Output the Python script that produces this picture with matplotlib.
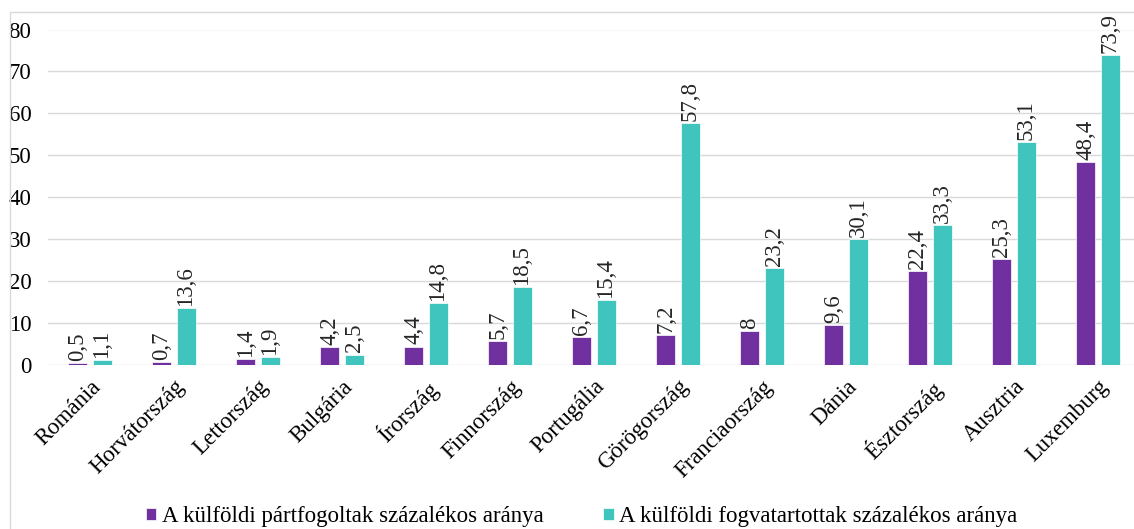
import numpy as np
import matplotlib
matplotlib.use("Agg")
import matplotlib.pyplot as plt
from matplotlib.patches import Rectangle

plt.rcParams['font.family'] = ['Liberation Serif', 'DejaVu Serif']

orszagok = ["Románia", "Horvátország", "Lettország", "Bulgária", "Írország",
            "Finnország", "Portugália", "Görögország", "Franciaország", "Dánia",
            "Észtország", "Ausztria", "Luxemburg"]
partfogoltak = [0.5, 0.7, 1.4, 4.2, 4.4, 5.7, 6.7, 7.2, 8, 9.6, 22.4, 25.3, 48.4]
fogvatartottak = [1.1, 13.6, 1.9, 2.5, 14.8, 18.5, 15.4, 57.8, 23.2, 30.1, 33.3, 53.1, 73.9]
y_ticks = [0, 10, 20, 30, 40, 50, 60, 70, 80]

szin_lila = "#7030A0"
szin_turkiz = "#3FC5BD"
fs = 16.5

fig = plt.figure(figsize=(11.34, 5.29), dpi=100)
# chart area border (light gray)
fig.patches.append(Rectangle((10 / 1134, -0.1), 1.2, 1 - 12 / 529 + 0.1,
                             transform=fig.transFigure, fill=False,
                             edgecolor="#D9D9D9", linewidth=1))

ax = fig.add_axes([48 / 1134, 1 - 365 / 529, 1092 / 1134, (365 - 29.5) / 529])

x = np.arange(len(orszagok))
w = 0.226
off = 0.143
b1 = ax.bar(x - off, partfogoltak, w, color=szin_lila, edgecolor="white", linewidth=0.5,
            label="A külföldi pártfogoltak százalékos aránya", zorder=3)
b2 = ax.bar(x + off, fogvatartottak, w, color=szin_turkiz, edgecolor="white", linewidth=0.5,
            label="A külföldi fogvatartottak százalékos aránya", zorder=3)

def fmt(v):
    return ("%g" % v).replace(".", ",")

for bars, vals in ((b1, partfogoltak), (b2, fogvatartottak)):
    for rect, v in zip(bars, vals):
        ax.annotate(fmt(v), (rect.get_x() + rect.get_width() / 2, v),
                    xytext=(0, 1.5), textcoords="offset points",
                    rotation=90, ha="center", va="bottom", fontsize=fs, color="#262626")

ax.set_xlim(-0.5, len(orszagok) - 0.5)
ax.set_ylim(0, 80)
ax.set_yticks(y_ticks)
ax.set_yticklabels([str(t) for t in y_ticks], fontsize=fs)
ax.set_xticks(x)
ax.set_xticklabels(orszagok, rotation=45, ha="right", rotation_mode="anchor", fontsize=fs)
ax.tick_params(axis="both", length=0)
ax.tick_params(axis="y", pad=12)
ax.tick_params(axis="x", pad=8)
ax.yaxis.grid(True, color="#D9D9D9", linewidth=1, zorder=0)
ax.set_axisbelow(True)
for s in ax.spines.values():
    s.set_visible(False)

fig.legend(handles=[b1, b2], loc="center", bbox_to_anchor=(0.513, 0.023), ncol=2,
           frameon=False, fontsize=fs, handlelength=0.45, handleheight=0.45,
           handletextpad=0.25, columnspacing=2.6)

fig.savefig("out.png", dpi=100)
